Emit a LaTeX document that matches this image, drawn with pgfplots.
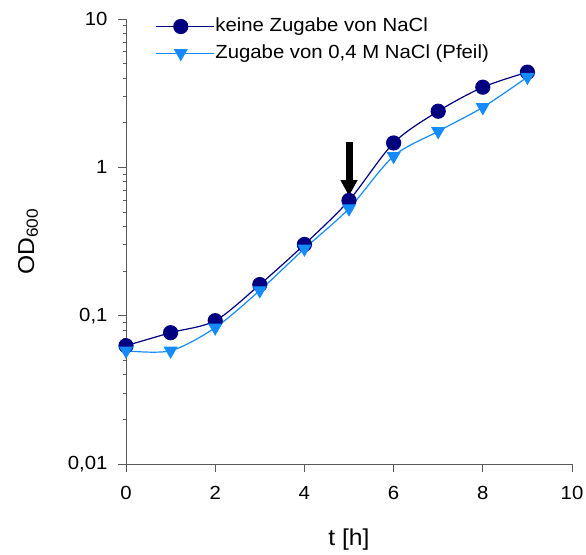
\documentclass[border=0pt]{standalone}
\usepackage{fontspec}
\setmainfont{Liberation Sans}[FakeStretch=1.07]
\usepackage{pgfplots}
\pgfplotsset{compat=1.18}
\usetikzlibrary{arrows.meta}
\definecolor{cnavy}{RGB}{0,0,128}
\definecolor{cblue}{RGB}{20,140,255}
\newcommand{\chartfont}{\fontsize{19}{23}\selectfont}
\newcommand{\labelfont}{\fontsize{23}{27}\selectfont}
\begin{document}
\chartfont
\begin{tikzpicture}
\begin{axis}[
  scale only axis,
  width=446pt, height=445pt,
  ymode=log,
  xmin=0, xmax=10, ymin=0.01, ymax=10,
  xtick={0,2,4,6,8,10},
  ytick={0.01,0.1,1,10},
  yticklabels={{0,01},{0,1},{1},{10}},
  minor ytick={},
  axis lines=left,
  axis line style={black!65, line width=0.9pt, -},
  tick style={black!65, line width=0.9pt},
  tick align=outside,
  major tick length=8pt,
  ticklabel style={font=\chartfont},
  /pgf/number format/assume math mode=true,
  xticklabel style={yshift=-8pt},
  yticklabel style={xshift=-4pt},
  xlabel={t [h]},
  ylabel={OD\textsubscript{600}},
  label style={font=\labelfont},
  xlabel style={at={([yshift=-76pt]rel axis cs:0.5,0)}, anchor=center},
  ylabel style={at={([xshift=-98pt]rel axis cs:0,0.5)}, anchor=center},
  clip=false,
  legend style={at={([yshift=2pt]rel axis cs:0.065,1)}, anchor=north west, draw=none, fill=none,
    font=\chartfont, row sep=8pt, inner sep=0pt, nodes={inner sep=1pt},
    /tikz/every even column/.append style={column sep=0pt}},
  legend cell align=left,
  legend image code/.code={
    \draw[#1] (0pt,0pt) -- (50pt,0pt);
    \draw[#1, only marks] plot coordinates {(25pt,0pt)};
    \path (0pt,0pt) -- (58pt,0pt);
  },
]
\addplot[cnavy, line width=1.2pt, smooth, mark=*, mark size=7pt, mark options={fill=cnavy, draw=cnavy, solid}]
  coordinates {(0,0.0627) (1,0.0768) (2,0.0925) (3,0.162) (4,0.302) (5,0.598) (6,1.46) (7,2.39) (8,3.47) (9,4.38)};
\addlegendentry{keine Zugabe von NaCl}
\addplot[cblue, line width=1.2pt, smooth, mark=triangle*, mark size=7pt, mark options={fill=cblue, draw=cblue, rotate=180, solid}]
  coordinates {(0,0.058) (1,0.058) (2,0.083) (3,0.148) (4,0.283) (5,0.528) (6,1.19) (7,1.75) (8,2.54) (9,4.06)};
\addlegendentry{Zugabe von 0,4 M NaCl (Pfeil)}
\draw[black, line width=7pt, -{Triangle[length=16pt, width=16pt]}] (axis cs:5,1.48) -- (axis cs:5,0.64);
\end{axis}
\pgfresetboundingbox
\path[use as bounding box] ([xshift=-126pt, yshift=-90pt]current axis.south west) rectangle ([xshift=14pt, yshift=19pt]current axis.north east);
\end{tikzpicture}
\end{document}
